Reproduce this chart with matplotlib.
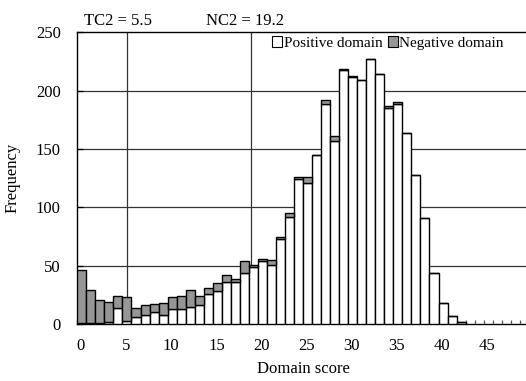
import matplotlib
matplotlib.use("Agg")
import matplotlib.pyplot as plt
import numpy as np
from matplotlib.patches import Patch

plt.rcParams['font.family'] = ['Liberation Serif', 'DejaVu Serif']
plt.rcParams['font.size'] = 12

# Domain score bins (bar k covers [k, k+1))
scores = list(range(43))
total = [46, 29, 21, 19, 24, 23, 14, 16, 17, 18, 23, 24, 29, 24, 31, 35, 42, 39, 54, 51,
         56, 55, 75, 95, 126, 126, 145, 192, 161, 219, 213, 209, 227, 214, 187, 190, 164,
         128, 91, 44, 18, 7, 2]
positive = [1, 1, 1, 2, 14, 3, 6, 8, 10, 8, 13, 13, 15, 16, 26, 28, 36, 36, 44, 49,
            54, 51, 73, 92, 124, 121, 145, 189, 157, 218, 212, 209, 227, 214, 185, 189, 164,
            128, 91, 44, 18, 7, 2]
negative = [t - p for t, p in zip(total, positive)]

tc2 = 5.5
nc2 = 19.2
xtick_labels = [0, 5, 10, 15, 20, 25, 30, 35, 40, 45]
ytick_vals = [0, 50, 100, 150, 200, 250]

fig = plt.figure(figsize=(5.26, 3.81), dpi=100)
ax = fig.add_axes([77.3/526, 57/381, 451.5/526, 291.6/381])

ax.bar(scores, positive, width=1.0, align='edge', color='white', edgecolor='black',
       linewidth=1.0, zorder=3, label='Positive domain')
ax.bar(scores, negative, width=1.0, align='edge', bottom=positive, color='#969696',
       edgecolor='black', linewidth=1.0, zorder=3, label='Negative domain')

for v in ytick_vals[1:-1]:
    ax.axhline(v, color='#333333', linewidth=0.9, zorder=1)
ax.axvline(tc2, color='#333333', linewidth=0.9, zorder=2)
ax.axvline(nc2, color='#333333', linewidth=0.9, zorder=2)

ax.set_xlim(0, 50)
ax.set_ylim(0, 250)
ax.set_yticks(ytick_vals)
ax.tick_params(axis='y', direction='in', length=4, width=0.9, pad=12, labelsize=12)
ax.set_xticks([v + 0.4 for v in xtick_labels])
ax.set_xticklabels([str(v) for v in xtick_labels])
ax.set_xticks(np.arange(0, 51, 1), minor=True)
ax.tick_params(axis='x', which='major', length=0, pad=10, labelsize=12)
ax.tick_params(axis='x', which='minor', direction='in', length=3, width=0.9, color='#555555')

for s in ['left', 'top', 'bottom']:
    ax.spines[s].set_color('black')
    ax.spines[s].set_linewidth(1.0)
ax.spines['right'].set_visible(False)

ax.set_xlabel('Domain score', fontsize=12, labelpad=5)
ax.set_ylabel('Frequency', fontsize=12, labelpad=11)

ax.text(84/526, 1 - 21/381, 'TC2 = 5.5', transform=fig.transFigure, ha='left', va='center', fontsize=12)
ax.text(206/526, 1 - 21/381, 'NC2 = 19.2', transform=fig.transFigure, ha='left', va='center', fontsize=12)

handles = [Patch(facecolor='white', edgecolor='black', linewidth=0.8),
           Patch(facecolor='#969696', edgecolor='black', linewidth=0.8)]
leg = ax.legend(handles, ['Positive domain', 'Negative domain'], ncol=2, frameon=False,
                loc='center', bbox_to_anchor=(0.688, 0.963), handlelength=0.65, handleheight=0.65,
                handletextpad=0.12, columnspacing=0.35, fontsize=11, borderpad=0)

fig.savefig('out.png', dpi=100)
